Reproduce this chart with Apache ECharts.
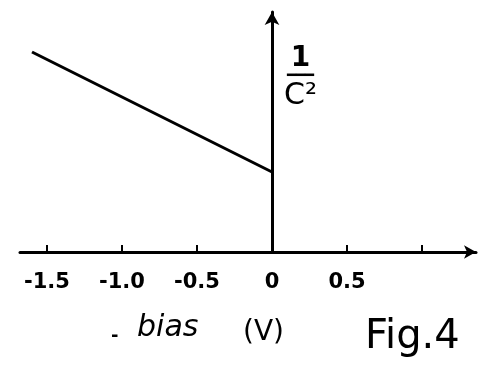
<!DOCTYPE html>
<html>
<head>
<meta charset="utf-8">
<script src="https://cdn.jsdelivr.net/npm/echarts@6/dist/echarts.min.js"></script>
<style>
  html, body { margin: 0; padding: 0; background: #fff; }
  #chart { width: 480px; height: 366px; }
</style>
</head>
<body>
<div id="chart"></div>
<script>
// 1/C^2 against reverse bias: a straight line ending at the zero-bias intercept
const biasV = [-1.6, 0];
const invC2 = [5.0, 2.0];
const tickValues = [-1.5, -1.0, -0.5, 0, 0.5, 1.0];
const tickLabels = ['-1.5', '-1.0', '-0.5', '0', '0.5'];

const ink = '#000';
const font = '"DejaVu Sans", sans-serif';

const chart = echarts.init(document.getElementById('chart'), null, { renderer: 'canvas' });

chart.setOption({
  backgroundColor: '#fff',
  animation: false,
  grid: { left: 20, right: 4, top: 12, bottom: 114 },
  title: [
    {
      text: '-',
      left: 106, top: 322,
      textStyle: { fontFamily: font, fontSize: 18, fontWeight: 'bold', color: ink }
    },
    {
      text: 'bias',
      left: 132, top: 308,
      textStyle: { fontFamily: font, fontSize: 30, fontStyle: 'italic', fontWeight: 'normal', color: ink }
    },
    {
      text: '(V)',
      left: 238, top: 314,
      textStyle: { fontFamily: font, fontSize: 28, fontWeight: 'normal', color: ink, letterSpacing: 3 }
    },
    {
      text: 'Fig.4',
      left: 360, top: 313,
      textStyle: { fontFamily: font, fontSize: 40, fontWeight: 'normal', color: ink }
    }
  ],
  xAxis: {
    type: 'value',
    min: -1.68,
    max: 1.36,
    splitLine: { show: false },
    axisLine: {
      show: true,
      onZero: false,
      symbol: ['none', 'arrow'],
      symbolSize: [10, 12],
      lineStyle: { color: ink, width: 3 }
    },
    axisTick: {
      show: true, inside: true, length: 7,
      customValues: tickValues,
      lineStyle: { color: ink, width: 2 }
    },
    axisLabel: {
      show: true,
      customValues: tickValues.slice(0, tickLabels.length),
      formatter: v => tickLabels[tickValues.indexOf(Math.round(v * 10) / 10)] || '',
      margin: 20,
      fontFamily: font, fontSize: 21, fontWeight: 'bold', color: ink
    }
  },
  yAxis: {
    type: 'value',
    min: 0,
    max: 6,
    name: '{n|1}\n{r|━━━}\n{d|C²}',
    nameLocation: 'end',
    nameGap: -100,
    nameTextStyle: {
      align: 'left',
      padding: [0, 0, 0, 12],
      rich: {
        n: { fontFamily: font, fontSize: 28, fontWeight: 'bold', color: ink, align: 'center', lineHeight: 26 },
        r: { fontFamily: font, fontSize: 15, color: ink, align: 'center', lineHeight: 8 },
        d: { fontFamily: font, fontSize: 30, color: ink, align: 'center', lineHeight: 32 }
      }
    },
    splitLine: { show: false },
    axisTick: { show: false },
    axisLabel: { show: false },
    axisLine: {
      show: true,
      onZero: true,
      symbol: ['none', 'arrow'],
      symbolSize: [11, 13],
      lineStyle: { color: ink, width: 3 }
    }
  },
  series: [
    {
      type: 'line',
      data: biasV.map((x, i) => [x, invC2[i]]),
      symbol: 'none',
      lineStyle: { color: ink, width: 3 },
      z: 3
    }
  ]
});
</script>
</body>
</html>
